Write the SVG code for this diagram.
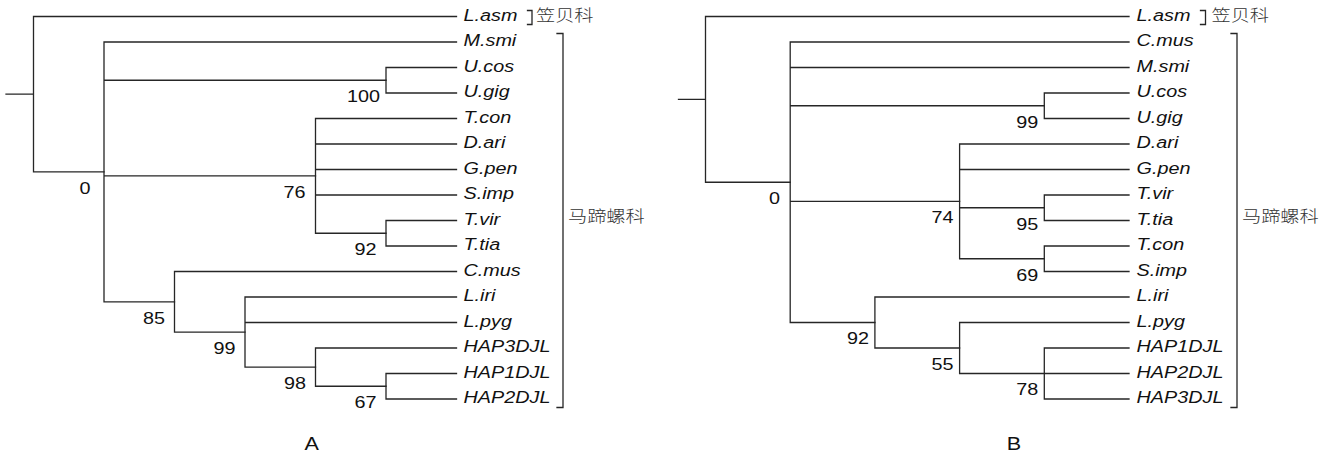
<svg xmlns="http://www.w3.org/2000/svg" width="1335" height="459" viewBox="0 0 1335 459">
<style>
.e{fill:none;stroke:#262626;stroke-width:1.3;stroke-linecap:square}
.t{font-family:"Liberation Sans",Arial,sans-serif;font-size:16.5px;font-style:italic;fill:#111}
.b{font-family:"Liberation Sans",Arial,sans-serif;font-size:16.5px;fill:#111;text-anchor:middle}
.c{font-family:"Liberation Sans","Noto Sans CJK SC",sans-serif;font-size:16px;font-weight:300;fill:#333}
.p{font-family:"Liberation Sans",Arial,sans-serif;font-size:18px;fill:#111;text-anchor:middle}
</style>
<rect width="1335" height="459" fill="#fff"/>
<!-- Tree A connectors -->
<g id="connectors-A" class="e">
<path d="M6 94.2H33.5M33.5 16.5V171.9H104M33.5 16.5H456.5"/>
<path d="M104 42V301.8M104 42H456.5M104 80.25H386M104 175.9H315.5M104 301.8H174.5"/>
<path d="M386 67.5V93M386 67.5H456.5M386 93H456.5"/>
<path d="M315.5 118.5V233.25M315.5 118.5H456.5M315.5 144H456.5M315.5 169.5H456.5M315.5 195H456.5M315.5 233.25H386"/>
<path d="M386 220.5V246M386 220.5H456.5M386 246H456.5"/>
<path d="M174.5 271.5V332.05M174.5 271.5H456.5M174.5 332.05H245"/>
<path d="M245 297V367.1M245 297H456.5M245 322.5H456.5M245 367.1H315.5"/>
<path d="M315.5 348V386.25M315.5 348H456.5M315.5 386.25H386"/>
<path d="M386 373.5V399M386 373.5H456.5M386 399H456.5"/>
<path d="M527.5 10.5H532V24.5H527.5"/>
<path d="M557 33.5H563V407.5H557"/>
</g>
<!-- Tree A leaves -->
<g id="A-Lasm"><text class="t" transform="translate(463.5 20.5) scale(1.2 1)">L.asm</text></g>
<g id="A-Msmi"><text class="t" transform="translate(463.5 46) scale(1.2 1)">M.smi</text></g>
<g id="A-Ucos"><text class="t" transform="translate(463.5 71.5) scale(1.2 1)">U.cos</text></g>
<g id="A-Ugig"><text class="t" transform="translate(463.5 97) scale(1.2 1)">U.gig</text></g>
<g id="A-Tcon"><text class="t" transform="translate(463.5 122.5) scale(1.2 1)">T.con</text></g>
<g id="A-Dari"><text class="t" transform="translate(463.5 148) scale(1.2 1)">D.ari</text></g>
<g id="A-Gpen"><text class="t" transform="translate(463.5 173.5) scale(1.2 1)">G.pen</text></g>
<g id="A-Simp"><text class="t" transform="translate(463.5 199) scale(1.2 1)">S.imp</text></g>
<g id="A-Tvir"><text class="t" transform="translate(463.5 224.5) scale(1.2 1)">T.vir</text></g>
<g id="A-Ttia"><text class="t" transform="translate(463.5 250) scale(1.2 1)">T.tia</text></g>
<g id="A-Cmus"><text class="t" transform="translate(463.5 275.5) scale(1.2 1)">C.mus</text></g>
<g id="A-Liri"><text class="t" transform="translate(463.5 301) scale(1.2 1)">L.iri</text></g>
<g id="A-Lpyg"><text class="t" transform="translate(463.5 326.5) scale(1.2 1)">L.pyg</text></g>
<g id="A-HAP3"><text class="t" transform="translate(463.5 352) scale(1.2 1)">HAP3DJL</text></g>
<g id="A-HAP1"><text class="t" transform="translate(463.5 377.5) scale(1.2 1)">HAP1DJL</text></g>
<g id="A-HAP2"><text class="t" transform="translate(463.5 403) scale(1.2 1)">HAP2DJL</text></g>
<!-- Tree A support values -->
<g id="A-supports">
<text class="b" transform="translate(85 194) scale(1.2 1)">0</text>
<text class="b" transform="translate(363.5 102) scale(1.2 1)">100</text>
<text class="b" transform="translate(294.5 198) scale(1.2 1)">76</text>
<text class="b" transform="translate(365.5 255) scale(1.2 1)">92</text>
<text class="b" transform="translate(154 324) scale(1.2 1)">85</text>
<text class="b" transform="translate(224.5 354) scale(1.2 1)">99</text>
<text class="b" transform="translate(295 389) scale(1.2 1)">98</text>
<text class="b" transform="translate(365.5 408) scale(1.2 1)">67</text>
</g>
<g id="A-families">
<text class="c" transform="translate(536 21) scale(1.2 1)">笠贝科</text>
<text class="c" transform="translate(568 221.5) scale(1.2 1)">马蹄螺科</text>
</g>
<g id="A-label"><text class="p" transform="translate(311.7 450) scale(1.2 1)">A</text></g>

<!-- Tree B connectors -->
<g id="connectors-B" class="e">
<path d="M678.5 99.4H705.5M705.5 16.5V182.25H790.2M705.5 16.5H1129"/>
<path d="M790.2 42V322.5M790.2 42H1129M790.2 67.5H1129M790.2 105.75H1044.3M790.2 201.4H959.6M790.2 322.5H874.9"/>
<path d="M1044.3 93V118.5M1044.3 93H1129M1044.3 118.5H1129"/>
<path d="M959.6 144V258.75M959.6 144H1129M959.6 169.5H1129M959.6 207.75H1044.3M959.6 258.75H1044.3"/>
<path d="M1044.3 195V220.5M1044.3 195H1129M1044.3 220.5H1129"/>
<path d="M1044.3 246V271.5M1044.3 246H1129M1044.3 271.5H1129"/>
<path d="M874.9 297V348M874.9 297H1129M874.9 348H959.6"/>
<path d="M959.6 322.5V373.5M959.6 322.5H1129M959.6 373.5H1044.3"/>
<path d="M1044.3 348V399M1044.3 348H1129M1044.3 373.5H1129M1044.3 399H1129"/>
<path d="M1200.5 10.5H1205.5V24.5H1200.5"/>
<path d="M1231 33.5H1237V407.5H1231"/>
</g>
<!-- Tree B leaves -->
<g id="B-Lasm"><text class="t" transform="translate(1136.5 20.5) scale(1.2 1)">L.asm</text></g>
<g id="B-Cmus"><text class="t" transform="translate(1136.5 46) scale(1.2 1)">C.mus</text></g>
<g id="B-Msmi"><text class="t" transform="translate(1136.5 71.5) scale(1.2 1)">M.smi</text></g>
<g id="B-Ucos"><text class="t" transform="translate(1136.5 97) scale(1.2 1)">U.cos</text></g>
<g id="B-Ugig"><text class="t" transform="translate(1136.5 122.5) scale(1.2 1)">U.gig</text></g>
<g id="B-Dari"><text class="t" transform="translate(1136.5 148) scale(1.2 1)">D.ari</text></g>
<g id="B-Gpen"><text class="t" transform="translate(1136.5 173.5) scale(1.2 1)">G.pen</text></g>
<g id="B-Tvir"><text class="t" transform="translate(1136.5 199) scale(1.2 1)">T.vir</text></g>
<g id="B-Ttia"><text class="t" transform="translate(1136.5 224.5) scale(1.2 1)">T.tia</text></g>
<g id="B-Tcon"><text class="t" transform="translate(1136.5 250) scale(1.2 1)">T.con</text></g>
<g id="B-Simp"><text class="t" transform="translate(1136.5 275.5) scale(1.2 1)">S.imp</text></g>
<g id="B-Liri"><text class="t" transform="translate(1136.5 301) scale(1.2 1)">L.iri</text></g>
<g id="B-Lpyg"><text class="t" transform="translate(1136.5 326.5) scale(1.2 1)">L.pyg</text></g>
<g id="B-HAP1"><text class="t" transform="translate(1136.5 352) scale(1.2 1)">HAP1DJL</text></g>
<g id="B-HAP2"><text class="t" transform="translate(1136.5 377.5) scale(1.2 1)">HAP2DJL</text></g>
<g id="B-HAP3"><text class="t" transform="translate(1136.5 403) scale(1.2 1)">HAP3DJL</text></g>
<!-- Tree B support values -->
<g id="B-supports">
<text class="b" transform="translate(774.5 204) scale(1.2 1)">0</text>
<text class="b" transform="translate(1027.3 127.5) scale(1.2 1)">99</text>
<text class="b" transform="translate(1027.3 229.5) scale(1.2 1)">95</text>
<text class="b" transform="translate(1027.3 280.5) scale(1.2 1)">69</text>
<text class="b" transform="translate(942.6 223) scale(1.2 1)">74</text>
<text class="b" transform="translate(1027.3 395) scale(1.2 1)">78</text>
<text class="b" transform="translate(942.6 370) scale(1.2 1)">55</text>
<text class="b" transform="translate(857.9 344) scale(1.2 1)">92</text>
</g>
<g id="B-families">
<text class="c" transform="translate(1211.5 21) scale(1.2 1)">笠贝科</text>
<text class="c" transform="translate(1242 221.5) scale(1.2 1)">马蹄螺科</text>
</g>
<g id="B-label"><text class="p" transform="translate(1014 450) scale(1.2 1)">B</text></g>
</svg>
